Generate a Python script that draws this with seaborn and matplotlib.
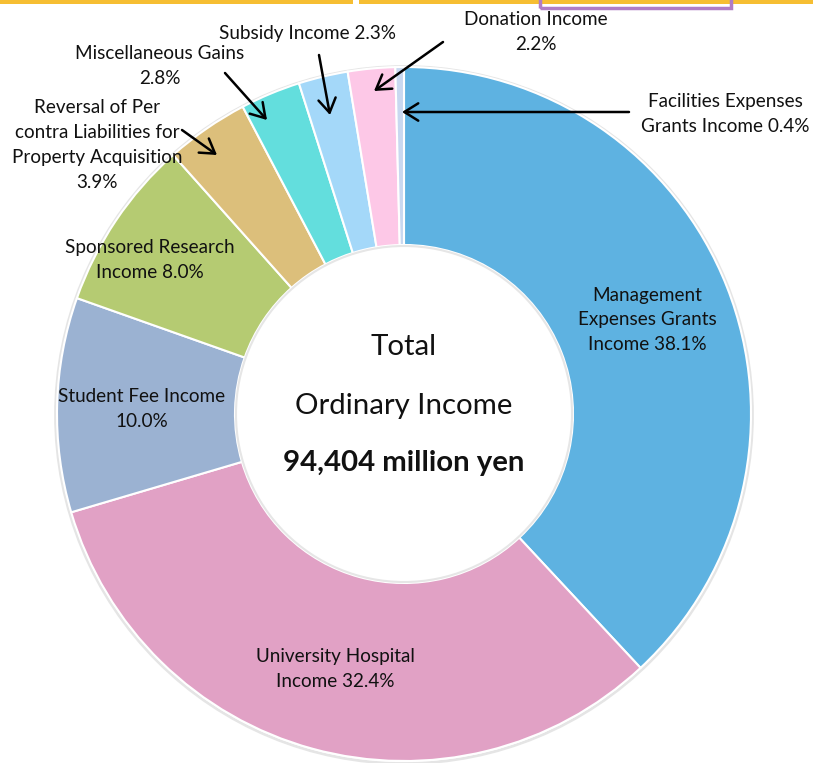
import matplotlib
matplotlib.use("Agg")
import matplotlib.pyplot as plt
from matplotlib.patches import Rectangle, Circle
import seaborn as sns

# ---- data ----
categories = [
    "Management Expenses Grants Income",
    "University Hospital Income",
    "Student Fee Income",
    "Sponsored Research Income",
    "Reversal of Per contra Liabilities for Property Acquisition",
    "Miscellaneous Gains",
    "Subsidy Income",
    "Donation Income",
    "Facilities Expenses Grants Income",
]
values = [38.1, 32.4, 10.0, 8.0, 3.9, 2.8, 2.3, 2.2, 0.4]
label_texts = [
    "Management\nExpenses Grants\nIncome {:.1f}%",
    "University Hospital\nIncome {:.1f}%",
    "Student Fee Income\n{:.1f}%",
    "Sponsored Research\nIncome {:.1f}%",
    "Reversal of Per\ncontra Liabilities for\nProperty Acquisition\n{:.1f}%",
    "Miscellaneous Gains\n{:.1f}%",
    "Subsidy Income {:.1f}%",
    "Donation Income\n{:.1f}%",
    "Facilities Expenses\nGrants Income {:.1f}%",
]
colors = ["#5EB2E1", "#E1A1C5", "#9BB2D2", "#B5CB72", "#DCBF7B",
          "#63DEDD", "#A4D8F9", "#FDC8E7", "#C8D8F0"]
center_lines = ["Total", "Ordinary Income", "94,404 million yen"]

# ---- layout (pixel coordinates, y down) ----
W, H = 813, 763
CX, CY, R, RIN = 404, 414, 347, 169
label_pos = [(647, 320), (335, 669), (142, 409), (150, 260), (97, 145),
             (160, 66), (307, 34), (536, 32), (725, 114)]
arrows = {  # index: (tail, head)
    4: ((182, 130), (217, 155)),
    5: ((225, 73), (267, 120)),
    6: ((319, 55), (330, 115)),
    7: ((443, 42), (374, 91)),
    8: ((629, 112), (402, 112)),
}

sns.set_theme(style="white")
plt.rcParams['font.family'] = ['Lato', 'DejaVu Sans']

fig = plt.figure(figsize=(W / 100, H / 100), dpi=100)
ax = fig.add_axes([0, 0, 1, 1])

def P(x, y):
    return (x, H - y)

palette = sns.color_palette(colors)

# subtle shadow ring
ax.add_patch(Circle(P(CX, CY + 1), R + 1.5, facecolor="none", edgecolor="#d4d4d4",
                    lw=2, alpha=0.6, zorder=0))

ax.pie(values, colors=palette, startangle=90, counterclock=False,
       center=P(CX, CY), radius=R,
       wedgeprops=dict(width=R - RIN, edgecolor="white", linewidth=1.5),
       frame=True)
ax.set_xlim(0, W)
ax.set_ylim(0, H)
ax.set_aspect("equal")
ax.axis("off")

ax.add_patch(Circle(P(CX, CY), RIN - 1, facecolor="none", edgecolor="#e6e6e6",
                    lw=1.5, zorder=3))

for i, (txt, v) in enumerate(zip(label_texts, values)):
    x, y = label_pos[i]
    ax.text(*P(x, y), txt.format(v), ha="center", va="center",
            fontsize=13.6, color="#111111", linespacing=1.56, zorder=5)

for i, (tail, head) in arrows.items():
    ax.annotate("", xy=P(*head), xytext=P(*tail),
                arrowprops=dict(arrowstyle="->,head_length=0.4,head_width=0.25",
                                mutation_scale=25, lw=1.8, color="black",
                                shrinkA=0, shrinkB=0), zorder=6)

ax.text(*P(CX, 347), center_lines[0], ha="center", va="center", fontsize=21.2, color="#111111")
ax.text(*P(CX, 406), center_lines[1], ha="center", va="center", fontsize=21.2, color="#111111")
ax.text(*P(CX, 463), center_lines[2], ha="center", va="center", fontsize=21.2,
        fontweight="bold", color="#111111")

# top slide decorations
ax.add_patch(Rectangle(P(0, 4), 353, 4, facecolor="#F6BE32", edgecolor="none", zorder=7))
ax.add_patch(Rectangle(P(359, 4), W - 359, 4, facecolor="#F6BE32", edgecolor="none", zorder=7))
ax.add_patch(Rectangle(P(540, 8), 191, 10, facecolor="none", edgecolor="#B07CC6",
                       lw=2.5, zorder=8))

fig.savefig("out.png", dpi=100)
